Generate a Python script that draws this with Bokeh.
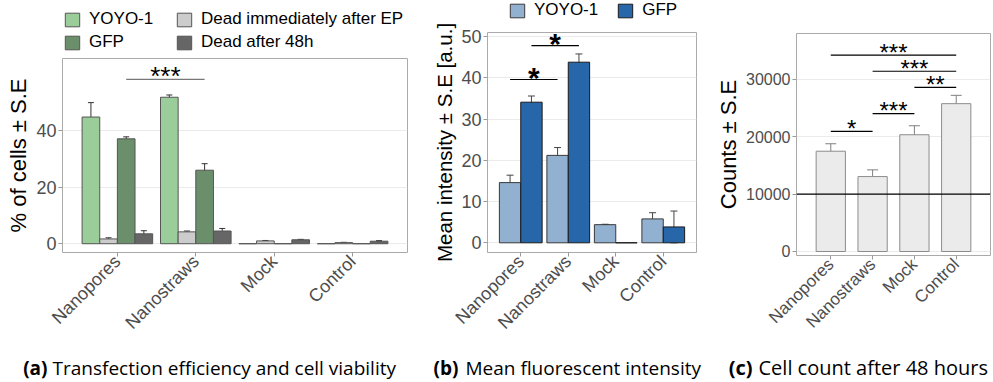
import math
from bokeh.plotting import figure
from bokeh.models import (ColumnDataSource, FactorRange, Range1d, Whisker, Legend, LegendItem,
                          Span, FixedTicker, TeeHead)
from bokeh.layouts import row, column
from bokeh.embed import file_html
from bokeh.resources import INLINE
from bokeh.core.properties import value
from bokeh.transform import dodge

# ---------------- data ----------------
cats = ["Nanopores", "Nanostraws", "Mock", "Control"]

# (a) % of cells
a_yoyo = [44.8, 51.8, 0.0, 0.0]
a_yoyo_se = [5.1, 0.8, 0.0, 0.0]
a_dead_ep = [1.7, 4.2, 1.0, 0.4]
a_dead_ep_se = [0.4, 0.3, 0.15, 0.1]
a_gfp = [37.1, 26.0, 0.0, 0.0]
a_gfp_se = [0.7, 2.3, 0.0, 0.0]
a_dead48 = [3.5, 4.5, 1.4, 0.9]
a_dead48_se = [1.1, 0.9, 0.15, 0.2]
a_yticks = [0, 20, 40]
a_sig_from = ["Nanopores"]
a_sig_to = ["Nanostraws"]
a_sig_y = [58.1]
a_sig_label = ["***"]

# (b) mean intensity
b_yoyo = [14.6, 21.2, 4.4, 5.8]
b_yoyo_se = [1.8, 1.9, 0.1, 1.5]
b_gfp = [34.1, 43.8, 0.0, 3.85]
b_gfp_se = [1.5, 2.0, 0.0, 3.85]
b_yticks = [0, 10, 20, 30, 40, 50]
b_sig_from = ["Nanopores", "Nanopores"]
b_sig_to = ["Nanostraws", "Nanostraws"]
b_sig_series = ["YOYO-1", "GFP"]
b_sig_y = [39.6, 47.8]
b_sig_label = ["*", "*"]

# (c) cell counts
c_counts = [17480, 13060, 20350, 25770]
c_counts_se = [1300, 1170, 1570, 1450]
c_yticks = [0, 10000, 20000, 30000]
c_ref_line = 10000
c_sig_from = ["Nanopores", "Nanostraws", "Mock", "Nanostraws", "Nanopores"]
c_sig_to = ["Nanostraws", "Mock", "Control", "Control", "Control"]
c_sig_y = [20930, 24020, 28620, 31420, 34220]
c_sig_label = ["*", "***", "**", "***", "***"]

# captions
cap_tags = ["(a)", "(b)", "(c)"]
cap_texts = ["Transfection efficiency and cell viability", "Mean fluorescent intensity",
             "Cell count after 48 hours"]

FONT = "Liberation Sans"
CAP_FONT = "Open Sans"
PH = 342  # total height of the panel row


def base_fig(width, height, x_pad, y0, y1, yticks, bl, br, bt, bb, tick_size, ylabel,
             label_size="22px"):
    p = figure(x_range=FactorRange(factors=cats, range_padding=x_pad,
                                   range_padding_units="absolute"),
               y_range=Range1d(y0, y1), width=width, height=height,
               output_backend="svg", toolbar_location=None,
               min_border_left=bl, min_border_right=br,
               min_border_top=bt, min_border_bottom=bb)
    p.outline_line_color = "#AAAAAA"
    p.background_fill_color = "white"
    p.xgrid.grid_line_color = None
    p.ygrid.grid_line_color = "#EBEBEB"
    p.ygrid.grid_line_width = 1
    p.yaxis.ticker = FixedTicker(ticks=yticks)
    for ax in p.axis:
        ax.axis_line_color = None
        ax.major_tick_line_color = "#999999"
        ax.major_tick_out = 4
        ax.major_tick_in = 0
        ax.minor_tick_line_color = None
        ax.major_label_text_color = "#4D4D4D"
        ax.major_label_text_font = FONT
        ax.major_label_text_font_size = tick_size
        ax.major_label_standoff = 2
    p.xaxis.major_label_orientation = math.pi / 4
    p.yaxis.formatter.use_scientific = False
    p.yaxis.axis_label = ylabel
    p.yaxis.axis_label_text_font = FONT
    p.yaxis.axis_label_text_font_size = label_size
    p.yaxis.axis_label_text_font_style = "normal"
    p.yaxis.axis_label_text_color = "black"
    p.yaxis.axis_label_standoff = 2
    return p


def blank_fig(width, height, bl, br):
    f = figure(width=width, height=height, x_range=Range1d(0, 1), y_range=Range1d(0, 1),
               output_backend="svg", toolbar_location=None,
               min_border_left=bl, min_border_right=br, min_border_top=0, min_border_bottom=0)
    f.axis.visible = False
    f.grid.visible = False
    f.outline_line_color = None
    return f


def add_bars(p, vals, ses, off, width, fill, line, wcol, head):
    src = ColumnDataSource(dict(cat=cats, v=vals))
    r = p.vbar(x=dodge("cat", off, range=p.x_range), top="v", bottom=0, width=width,
               source=src, fill_color=fill, line_color=line, line_width=1)
    keep = [i for i, s in enumerate(ses) if s > 0]
    wsrc = ColumnDataSource(dict(cat=[cats[i] for i in keep],
                                 up=[vals[i] + ses[i] for i in keep],
                                 lo=[vals[i] - ses[i] for i in keep]))
    w = Whisker(base=dodge("cat", off, range=p.x_range), upper="up", lower="lo",
                source=wsrc, line_color=wcol, line_width=1,
                upper_head=TeeHead(size=head, line_color=wcol, line_width=1),
                lower_head=TeeHead(size=head, line_color=wcol, line_width=1))
    p.add_layout(w)
    return r


def add_sig(p, frm, to, off_from, off_to, ys, labels, color, size, font_style, yoff):
    x0 = [cats.index(c) + 0.5 + o for c, o in zip(frm, off_from)]
    x1 = [cats.index(c) + 0.5 + o for c, o in zip(to, off_to)]
    xm = [(a + b) / 2 for a, b in zip(x0, x1)]
    p.segment(x0=x0, x1=x1, y0=ys, y1=ys, line_color=color, line_width=1.2)
    p.text(x=xm, y=ys, text=labels, text_font=value(FONT), text_font_size=size,
           text_font_style=font_style, text_align="center", text_baseline="alphabetic",
           y_offset=yoff, text_color="black")


def legend_swatch(f, fill, line):
    # zero-size, off-frame renderer that only carries the swatch style for the legend
    return f.vbar(x=[-5], top=[-5], bottom=[-5], width=0, fill_color=fill, line_color=line,
                  line_width=1)


def style_legend(lg):
    lg.padding = 0
    lg.margin = 0
    lg.border_line_color = None
    lg.background_fill_alpha = 0
    lg.glyph_width = 18
    lg.glyph_height = 17
    lg.label_height = 20
    lg.label_standoff = 8
    lg.label_text_font = FONT
    lg.label_text_font_size = "17px"
    lg.label_text_color = "black"


# colours
A_YOYO, A_DEP, A_GFP, A_D48, A_EDGE = "#9BCD9B", "#CCCCCC", "#6A8F6A", "#666666", "#555555"
B_YOYO, B_GFP = "#92B0CF", "#2766A8"

# ---------------- panel (a) ----------------
LA_H = 52
la = blank_fig(425, LA_H, 62, 18)
s1 = legend_swatch(la, A_YOYO, A_EDGE)
s2 = legend_swatch(la, A_GFP, A_EDGE)
s3 = legend_swatch(la, A_DEP, A_EDGE)
s4 = legend_swatch(la, A_D48, A_EDGE)
lg1 = Legend(items=[LegendItem(label="YOYO-1", renderers=[s1]),
                    LegendItem(label="GFP", renderers=[s2])], location=(1, 0))
lg2 = Legend(items=[LegendItem(label="Dead immediately after EP", renderers=[s3]),
                    LegendItem(label="Dead after 48h", renderers=[s4])], location=(113, 0))
for lg in (lg1, lg2):
    style_legend(lg)
    lg.spacing = 3
    la.add_layout(lg)

pa = base_fig(425, PH - LA_H, 0.2, -3.1, 65.5, a_yticks, 62, 18, 58 - LA_H, PH - 252, "18px",
              "% of cells ± S.E")
bw = 0.225
add_bars(pa, a_yoyo, a_yoyo_se, -0.3375, bw, A_YOYO, A_EDGE, "#333333", 6)
add_bars(pa, a_dead_ep, a_dead_ep_se, -0.1125, bw, A_DEP, A_EDGE, "#333333", 6)
add_bars(pa, a_gfp, a_gfp_se, 0.1125, bw, A_GFP, A_EDGE, "#333333", 6)
add_bars(pa, a_dead48, a_dead48_se, 0.3375, bw, A_D48, A_EDGE, "#333333", 6)
add_sig(pa, a_sig_from, a_sig_to, [0.1125], [0.1125], a_sig_y, a_sig_label,
        "#777777", "26px", "normal", -3)

# ---------------- panel (b) ----------------
LB_H = 20
lb = blank_fig(280, LB_H, 62, 9)
t1 = legend_swatch(lb, B_YOYO, "#3A3A3A")
t2 = legend_swatch(lb, B_GFP, "#1A1A1A")
lgb = Legend(items=[LegendItem(label="YOYO-1", renderers=[t1]),
                    LegendItem(label="GFP", renderers=[t2])], location=(21, 0),
             orientation="horizontal")
style_legend(lgb)
lgb.spacing = 18
lb.add_layout(lgb)

pb = base_fig(280, PH - LB_H, 0.2, -2.35, 51, b_yticks, 62, 9, 32 - LB_H, PH - 253, "18px",
              "Mean intensity ± S.E [a.u.]", label_size="20.5px")
add_bars(pb, b_yoyo, b_yoyo_se, -0.225, 0.45, B_YOYO, "#3A3A3A", "#444444", 7)
add_bars(pb, b_gfp, b_gfp_se, 0.225, 0.45, B_GFP, "#1A1A1A", "#444444", 7)
off_b = {"YOYO-1": -0.225, "GFP": 0.225}
add_sig(pb, b_sig_from, b_sig_to, [off_b[s] for s in b_sig_series],
        [off_b[s] for s in b_sig_series], b_sig_y, b_sig_label, "black", "30px", "bold", -2)

# ---------------- panel (c) ----------------
pc = base_fig(288, PH, 0.32, -700, 38000, c_yticks, 91, 3, 33, PH - 255, "16px", "Counts ± S.E")
add_bars(pc, c_counts, c_counts_se, 0.0, 0.7, "#EBEBEB", "#8C8C8C", "#808080", 11)
pc.add_layout(Span(location=c_ref_line, dimension="width", line_color="black", line_width=1.2))
add_sig(pc, c_sig_from, c_sig_to, [0.0] * 5, [0.0] * 5, c_sig_y, c_sig_label,
        "black", "24px", "normal", -3)
pc.xaxis.major_label_text_font_size = "17px"

# ---------------- captions ----------------
CH = 40
cap = figure(width=993, height=CH, x_range=Range1d(0, 993), y_range=Range1d(CH, 0),
             output_backend="svg", toolbar_location=None, min_border=0)
cap.axis.visible = False
cap.grid.visible = False
cap.outline_line_color = None
cap_src = ColumnDataSource(dict(tag=cap_tags, txt=cap_texts, tx=[47, 458, 752], x=[52, 465, 758],
                                y=[25, 25, 25], size=["19px", "19px", "20px"]))
cap.text(x="tx", y="y", text="tag", source=cap_src, text_font=value(CAP_FONT),
         text_font_size="size", text_font_style="bold", text_align="right",
         text_baseline="alphabetic", text_color="black")
cap.text(x="x", y="y", text="txt", source=cap_src, text_font=value(CAP_FONT),
         text_font_size="size", text_align="left", text_baseline="alphabetic",
         text_color="black")

layout = column(row(column(la, pa), column(lb, pb), column(pc)), cap)
open("out.html", "w").write(file_html(layout, INLINE))
